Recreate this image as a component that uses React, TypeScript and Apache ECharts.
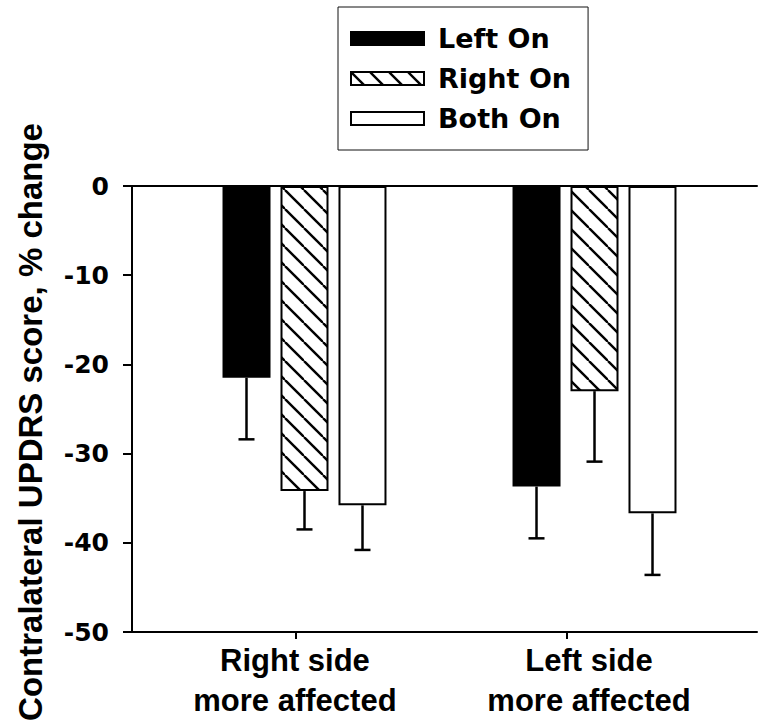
import React, { useEffect, useRef } from "react";
import * as echarts from "echarts";

// ---- data ----
const categories = ["Right side\nmore affected", "Left side\nmore affected"];
const seriesNames = ["Left On", "Right On", "Both On"];
const leftOn = [-21.5, -33.7];
const rightOn = [-34.2, -23.0];
const bothOn = [-35.8, -36.7];
const leftOnErr = [6.9, 5.8];
const rightOnErr = [4.3, 7.9];
const bothOnErr = [5.0, 6.9];
const yTickLabels = ["0", "-10", "-20", "-30", "-40", "-50"];
const yTitle = "Contralateral UPDRS score, % change";

// group positions on the x value axis (bars), tick and label positions
const groupPos = [1, 2];
const tickPos = [0.9707, 1.9052];
const labelPos = [0.967, 1.981];

const BAR_W = 48;
const BAR_GAP = 10;

function makeHatch() {
  const s = 19;
  const c = document.createElement("canvas");
  c.width = s;
  c.height = s;
  const ctx = c.getContext("2d")!;
  ctx.fillStyle = "#fff";
  ctx.fillRect(0, 0, s, s);
  ctx.strokeStyle = "#000";
  ctx.lineWidth = 2.4;
  for (const k of [-1, 0, 1]) {
    ctx.beginPath();
    ctx.moveTo(k * s, 0);
    ctx.lineTo(k * s + s, s);
    ctx.stroke();
  }
  return c;
}

export default function App() {
  const ref = useRef<HTMLDivElement>(null);
  useEffect(() => {
    document.body.style.margin = "0";
    const chart = echarts.init(ref.current!, null, { renderer: "svg" });
    const hatch = makeHatch();
    const values = [leftOn, rightOn, bothOn];
    const errs = [leftOnErr, rightOnErr, bothOnErr];
    const fills: any[] = [
      "#000",
      { image: hatch, repeat: "repeat", imageWidth: 19, imageHeight: 19 },
      "#fff",
    ];
    const barSeries = seriesNames.map((name, s) => ({
      name,
      type: "bar",
      xAxisIndex: 0,
      barWidth: BAR_W,
      barGap: ((BAR_GAP / BAR_W) * 100).toFixed(1) + "%",
      itemStyle: { color: fills[s], borderColor: "#000", borderWidth: 2 },
      data: groupPos.map((p, g) => [p, values[s][g]]),
      z: 2,
    }));
    const errData: number[][] = [];
    for (let s = 0; s < 3; s++) {
      for (let g = 0; g < groupPos.length; g++) {
        errData.push([groupPos[g], values[s][g], errs[s][g], s]);
      }
    }
    const errSeries = {
      type: "custom",
      xAxisIndex: 0,
      data: errData,
      encode: { x: 0, y: 1 },
      z: 1,
      renderItem: (params: any, api: any) => {
        const x = api.value(0);
        const y = api.value(1);
        const e = api.value(2);
        const s = api.value(3);
        const p0 = api.coord([x, y]);
        const p1 = api.coord([x, y - e]);
        const cx = p0[0] + (s - 1) * (BAR_W + BAR_GAP);
        const st = { stroke: "#000", lineWidth: 2.5 };
        return {
          type: "group",
          children: [
            { type: "line", shape: { x1: cx, y1: p0[1], x2: cx, y2: p1[1] }, style: st },
            { type: "line", shape: { x1: cx - 8, y1: p1[1], x2: cx + 8, y2: p1[1] }, style: st },
          ],
        };
      },
    };
    const axisMin = 0.4052;
    const axisMax = 2.5603;
    chart.setOption({
      animation: false,
      grid: { left: 132, right: 1, top: 186, bottom: 93 },
      legend: {
        data: seriesNames,
        orient: "vertical",
        left: 338,
        top: 7,
        itemWidth: 73,
        itemHeight: 13,
        itemGap: 13,
        padding: [18, 17, 18, 12],
        borderColor: "#111",
        borderWidth: 1,
        selectedMode: false,
        icon: "rect",
        textStyle: {
          fontFamily: "DejaVu Sans",
          fontWeight: "bold",
          fontSize: 27,
          color: "#000",
          lineHeight: 26,
          padding: [0, 0, 0, 9],
        },
      },
      xAxis: [
        {
          type: "value",
          min: axisMin,
          max: axisMax,
          position: "bottom",
          splitLine: { show: false },
          axisLine: { show: true, onZero: false, lineStyle: { color: "#000", width: 2 } },
          axisTick: { show: true, customValues: tickPos, length: 7, lineStyle: { color: "#000", width: 2 } },
          axisLabel: {
            customValues: labelPos,
            formatter: (v: number) => (v < 1.5 ? categories[0] : categories[1]),
            fontFamily: "Liberation Sans",
            fontWeight: "bold",
            fontSize: 31,
            lineHeight: 40,
            color: "#000",
            margin: 8,
          },
        },
        {
          type: "value",
          min: axisMin,
          max: axisMax,
          position: "top",
          splitLine: { show: false },
          axisLine: { show: true, onZero: false, lineStyle: { color: "#000", width: 2 } },
          axisTick: { show: false },
          axisLabel: { show: false },
        },
      ],
      yAxis: {
        type: "value",
        min: -50,
        max: 0,
        interval: 10,
        splitLine: { show: false },
        axisLine: { show: true, onZero: false, lineStyle: { color: "#000", width: 2 } },
        axisTick: { show: true, length: 9, lineStyle: { color: "#000", width: 2 } },
        axisLabel: {
          formatter: (v: number) => yTickLabels[Math.round(-v / 10)],
          fontFamily: "DejaVu Sans",
          fontWeight: "bold",
          fontSize: 25,
          color: "#000",
          margin: 23,
        },
      },
      graphic: [
        {
          type: "text",
          x: 30,
          y: 422,
          rotation: Math.PI / 2,
          style: {
            text: yTitle,
            fontFamily: "Liberation Sans",
            fontWeight: "bold",
            fontSize: 33,
            fill: "#000",
            align: "center",
            verticalAlign: "middle",
          },
        },
      ],
      series: [...barSeries, errSeries],
    });
    return () => chart.dispose();
  }, []);
  return <div ref={ref} style={{ width: 758, height: 725 }} />;
}
